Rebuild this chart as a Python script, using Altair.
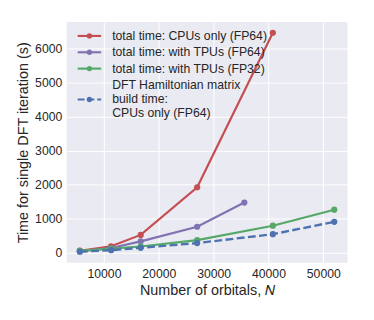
import altair as alt
import pandas as pd

series_names = [
    "total time: CPUs only (FP64)",
    "total time: with TPUs (FP64)",
    "total time: with TPUs (FP32)",
    "DFT Hamiltonian matrix|build time:|CPUs only (FP64)",
]
series_colors = ["#C44E52", "#8172B2", "#55A868", "#4C72B0"]

cpu64_x = [5600, 11300, 16700, 27000, 40800]
cpu64_y = [60, 190, 525, 1925, 6465]
tpu64_x = [5600, 11300, 16700, 27000, 35600]
tpu64_y = [45, 140, 335, 765, 1475]
tpu32_x = [5600, 11300, 16700, 27000, 40800, 52000]
tpu32_y = [55, 120, 185, 370, 795, 1265]
build_x = [5600, 11300, 16700, 27000, 40800, 52000]
build_y = [30, 75, 145, 285, 545, 910]

x_ticks = [10000, 20000, 30000, 40000, 50000]
y_ticks = [0, 1000, 2000, 3000, 4000, 5000, 6000]

# separate copies of the series names so that each legend keeps its own scale
dom1 = series_names
dom2 = [n + " " for n in series_names[:3]]
dom3 = [series_names[3] + "  "]
dom4 = [series_names[3] + "   "]

rows = []
for i, (name, xs, ys) in enumerate(zip(series_names,
                                       [cpu64_x, tpu64_x, tpu32_x, build_x],
                                       [cpu64_y, tpu64_y, tpu32_y, build_y])):
    for xv, yv in zip(xs, ys):
        rows.append({"s1": name, "s2": name + " ", "s3": name + "  ", "s4": name + "   ",
                     "dashed": i == 3, "N": xv, "t": yv})
df = pd.DataFrame(rows)

TXT = "#262626"
FONT = "Liberation Sans"
LINE_SYM = "M-3,0L3,0"
DASH = [8, 3.5]
Y0 = 8

hide_last = alt.ExprRef(expr="indexof(datum.value, 'DFT') >= 0 ? 0 : 1")


def make_legend(y, sym, size, sw, label_expr, opac=1, dash=None):
    kw = dict(
        title=None, orient="none", legendX=17, legendY=y, padding=0,
        labelFontSize=12.5, labelFont=FONT, labelLimit=0, rowPadding=3.7,
        labelExpr=label_expr, labelOffset=17, labelColor=TXT,
        symbolType=sym, symbolSize=size, symbolStrokeWidth=sw, symbolOpacity=opac,
    )
    if dash is not None:
        kw["symbolDash"] = dash
    return alt.Legend(**kw)


x_enc = alt.X("N:Q",
              scale=alt.Scale(domain=[3200, 54400], nice=False, zero=False),
              axis=alt.Axis(values=x_ticks, format="d", title="Number of orbitals, 𝑁",
                            titlePadding=3))
y_enc = alt.Y("t:Q",
              scale=alt.Scale(domain=[-290, 6780], nice=False, zero=False),
              axis=alt.Axis(values=y_ticks, format="d",
                            title="Time for single DFT iteration (s)", titlePadding=4))

base = alt.Chart(df)

solid_lines = base.transform_filter("!datum.dashed").mark_line(strokeWidth=2.2).encode(
    x=x_enc, y=y_enc,
    color=alt.Color("s1:N", scale=alt.Scale(domain=dom1, range=series_colors),
                    legend=make_legend(Y0, LINE_SYM, 64, 2.2,
                                       "split(datum.label, '|')", opac=hide_last)),
    order=alt.Order("N:Q"),
)
solid_dots = base.transform_filter("!datum.dashed").mark_point(
    filled=True, size=40, opacity=1, strokeWidth=0).encode(
    x=x_enc, y=y_enc,
    fill=alt.Fill("s2:N", scale=alt.Scale(domain=dom2, range=series_colors[:3]),
                  legend=make_legend(Y0, "circle", 30, 0, "''")),
)
dash_line = base.transform_filter("datum.dashed").mark_line(
    strokeWidth=2.4, strokeDash=DASH).encode(
    x=x_enc, y=y_enc,
    stroke=alt.Stroke("s3:N", scale=alt.Scale(domain=dom3, range=series_colors[3:]),
                      legend=make_legend(Y0 + 65, LINE_SYM, 64, 2.2, "''", dash=[7, 3])),
    order=alt.Order("N:Q"),
)
dash_dots = base.transform_filter("datum.dashed").mark_point(
    filled=True, size=40, opacity=1, strokeWidth=0, color=series_colors[3]).encode(
    x=x_enc, y=y_enc,
    shape=alt.Shape("s4:N", scale=alt.Scale(domain=dom4, range=["circle"]),
                    legend=make_legend(Y0 + 65, "circle", 30, 0, "''")),
)

chart = alt.layer(solid_lines, dash_line, solid_dots, dash_dots).properties(
    width=287,
    height=246,
    autosize=alt.AutoSizeParams(type="none"),
    padding={"left": 60, "top": 11, "right": 19, "bottom": 40},
).configure_view(
    fill="#EAEAF2", stroke=None
).configure_axis(
    grid=True, gridColor="white", gridWidth=1, domain=False, ticks=False,
    labelFont=FONT, labelFontSize=12.5, labelColor=TXT, labelPadding=5,
    titleFont=FONT, titleFontSize=14.7, titleColor=TXT, titleFontWeight="normal",
)

chart.save("out.html", embed_options={"renderer": "svg", "actions": False})
